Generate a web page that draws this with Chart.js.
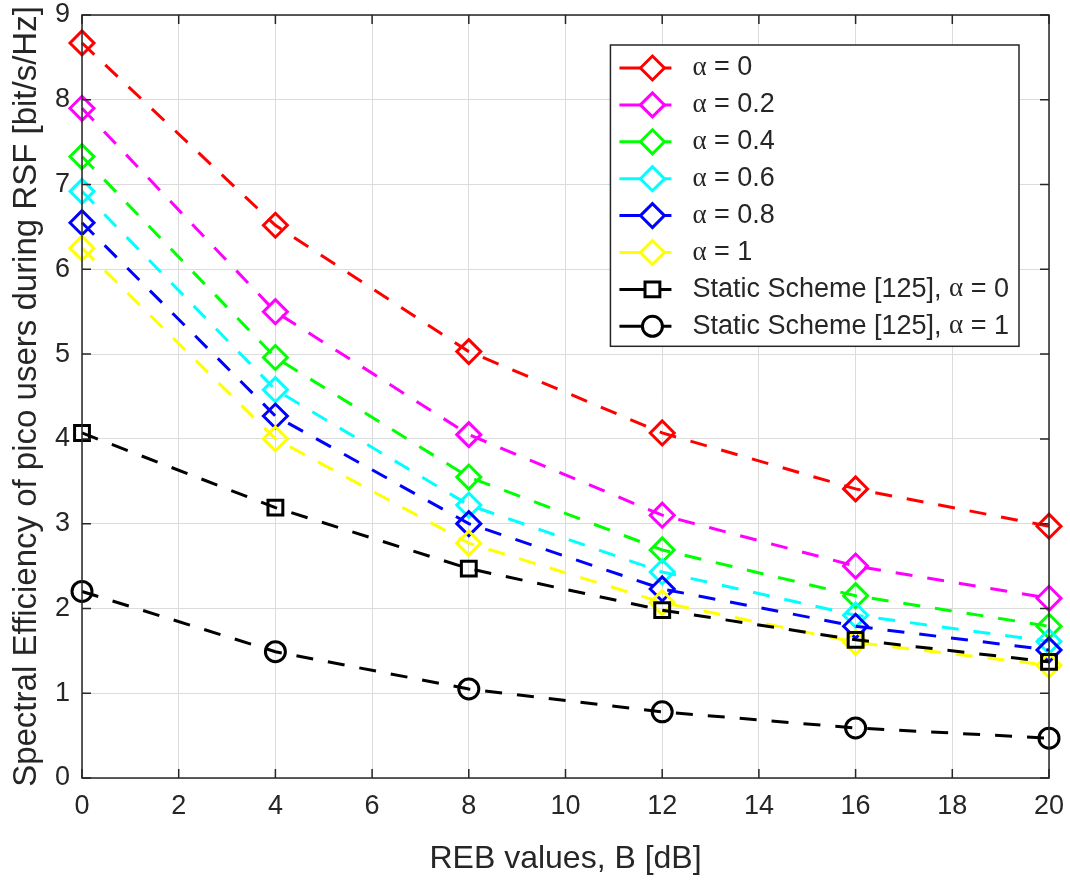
<!DOCTYPE html>
<html>
<head>
<meta charset="utf-8">
<script src="https://cdn.jsdelivr.net/npm/chart.js@4.4.1/dist/chart.umd.min.js"></script>
<style>
  body { margin: 0; background: #fff; }
  #wrap { width: 1070px; height: 882px; position: relative; }
</style>
</head>
<body>
<div id="wrap"><canvas id="sePlot"></canvas></div>
<script>
const rebValues = [0, 4, 8, 12, 16, 20];

const alpha0   = [8.67, 6.52, 5.03, 4.07, 3.41, 2.97];
const alpha02  = [7.90, 5.50, 4.05, 3.10, 2.50, 2.12];
const alpha04  = [7.33, 4.96, 3.55, 2.69, 2.15, 1.79];
const alpha06  = [6.92, 4.58, 3.22, 2.43, 1.92, 1.61];
const alpha08  = [6.55, 4.27, 3.00, 2.23, 1.79, 1.51];
const alpha1   = [6.25, 4.00, 2.77, 2.07, 1.60, 1.33];
const staticA0 = [4.07, 3.19, 2.47, 1.98, 1.63, 1.37];
const staticA1 = [2.20, 1.49, 1.05, 0.78, 0.59, 0.47];

const seriesNames = ['α = 0', 'α = 0.2', 'α = 0.4', 'α = 0.6', 'α = 0.8', 'α = 1',
    'Static Scheme [125], α = 0', 'Static Scheme [125], α = 1'];
const seriesValues = [alpha0, alpha02, alpha04, alpha06, alpha08, alpha1, staticA0, staticA1];
const seriesColors = ['#ff0000', '#ff00ff', '#00ff00', '#00ffff', '#0000ff', '#ffff00', '#000000', '#000000'];
const seriesMarkers = ['rectRot', 'rectRot', 'rectRot', 'rectRot', 'rectRot', 'rectRot', 'rect', 'circle'];

const xTicks = [0, 2, 4, 6, 8, 10, 12, 14, 16, 18, 20];
const yTicks = [0, 1, 2, 3, 4, 5, 6, 7, 8, 9];

const axisColor = '#262626';
const textFont = "'Liberation Sans', Arial, sans-serif";

function markerRadius(style) {
    if (style === 'rect') return 10.5;
    if (style === 'circle') return 10;
    return 12;
}

const datasets = seriesNames.map((name, i) => ({
    label: name,
    data: rebValues.map((x, j) => ({ x: x, y: seriesValues[i][j] })),
    borderColor: seriesColors[i],
    backgroundColor: 'rgba(0,0,0,0)',
    borderWidth: 3,
    borderDash: [17, 15],
    pointStyle: seriesMarkers[i],
    pointRadius: markerRadius(seriesMarkers[i]),
    pointBorderWidth: 3,
    pointBorderColor: seriesColors[i],
    pointBackgroundColor: 'rgba(0,0,0,0)',
    tension: 0,
    clip: false,
    order: seriesNames.length - i
}));

// box around the axes, with inward ticks on all four sides
const axesBox = {
    id: 'axesBox',
    afterDatasetsDraw(chart) {
        const { ctx, chartArea: a, scales } = chart;
        ctx.save();
        ctx.strokeStyle = axisColor;
        ctx.lineWidth = 1.5;
        ctx.setLineDash([]);
        ctx.strokeRect(a.left, a.top, a.right - a.left, a.bottom - a.top);
        const len = 9;
        ctx.beginPath();
        xTicks.forEach(v => {
            const px = scales.x.getPixelForValue(v);
            ctx.moveTo(px, a.bottom); ctx.lineTo(px, a.bottom - len);
            ctx.moveTo(px, a.top); ctx.lineTo(px, a.top + len);
        });
        yTicks.forEach(v => {
            const py = scales.y.getPixelForValue(v);
            ctx.moveTo(a.left, py); ctx.lineTo(a.left + len, py);
            ctx.moveTo(a.right, py); ctx.lineTo(a.right - len, py);
        });
        ctx.stroke();
        ctx.restore();
    }
};

// legend box inside the upper right corner of the axes
const boxLegend = {
    id: 'boxLegend',
    afterDraw(chart) {
        const { ctx, chartArea: a } = chart;
        const fontSize = 27;
        const rowH = 36.9;
        ctx.save();
        let maxW = 0;
        seriesNames.forEach(n => {
            const parts = n.split('α');
            ctx.font = fontSize + 'px ' + textFont;
            let w = ctx.measureText(parts[0]).width + ctx.measureText(parts[1]).width;
            ctx.font = fontSize + 'px "Liberation Serif", serif';
            w += ctx.measureText('α').width;
            maxW = Math.max(maxW, w);
        });
        const right = a.right - 30;
        const top = a.top + 30;
        const width = maxW + 82 + 10;
        const left = right - width;
        const height = 23 + rowH * (seriesNames.length - 1) + 20;
        ctx.fillStyle = '#fff';
        ctx.fillRect(left, top, width, height);
        ctx.strokeStyle = axisColor;
        ctx.lineWidth = 1.5;
        ctx.strokeRect(left, top, width, height);

        chart.data.datasets.forEach((ds, i) => {
            const cy = top + 23 + i * rowH;
            ctx.setLineDash([]);
            ctx.strokeStyle = ds.borderColor;
            ctx.lineWidth = 3;
            ctx.beginPath();
            ctx.moveTo(left + 9, cy);
            ctx.lineTo(left + 61, cy);
            ctx.stroke();
            ctx.fillStyle = '#fff';
            Chart.helpers.drawPoint(ctx, {
                pointStyle: ds.pointStyle,
                radius: ds.pointRadius,
                rotation: 0,
                borderWidth: 3
            }, left + 42, cy);

            const parts = ds.label.split('α');
            let tx = left + 82;
            ctx.fillStyle = axisColor;
            ctx.textBaseline = 'middle';
            ctx.textAlign = 'left';
            ctx.font = fontSize + 'px ' + textFont;
            ctx.fillText(parts[0], tx, cy);
            tx += ctx.measureText(parts[0]).width;
            ctx.font = fontSize + 'px "Liberation Serif", serif';
            ctx.fillText('α', tx, cy);
            tx += ctx.measureText('α').width;
            ctx.font = fontSize + 'px ' + textFont;
            ctx.fillText(parts[1], tx, cy);
        });
        ctx.restore();
    }
};

new Chart(document.getElementById('sePlot'), {
    type: 'line',
    data: { datasets: datasets },
    options: {
        responsive: true,
        maintainAspectRatio: false,
        animation: false,
        layout: { padding: { left: 0, right: 21, top: 15, bottom: 0 } },
        plugins: {
            legend: { display: false },
            tooltip: { enabled: false }
        },
        scales: {
            x: {
                type: 'linear',
                min: 0,
                max: 20,
                afterBuildTicks: s => { s.ticks = xTicks.map(v => ({ value: v })); },
                afterFit: s => { s.height = 104; s.paddingLeft = 0; s.paddingRight = 0; },
                grid: { color: '#dcdcdc', lineWidth: 1, drawTicks: false },
                border: { display: false },
                ticks: { color: axisColor, font: { family: textFont, size: 27 }, padding: 12, maxRotation: 0 },
                title: {
                    display: true,
                    text: 'REB values, B [dB]',
                    color: axisColor,
                    font: { family: textFont, size: 32 },
                    padding: { top: 0, bottom: 4 }
                }
            },
            y: {
                type: 'linear',
                min: 0,
                max: 9,
                afterBuildTicks: s => { s.ticks = yTicks.map(v => ({ value: v })); },
                afterFit: s => { s.width = 82; s.paddingTop = 0; s.paddingBottom = 0; },
                grid: { color: '#dcdcdc', lineWidth: 1, drawTicks: false },
                border: { display: false },
                ticks: { color: axisColor, font: { family: textFont, size: 27 }, padding: 12 },
                title: {
                    display: true,
                    text: 'Spectral Efficiency of pico users during RSF [bit/s/Hz]',
                    color: axisColor,
                    font: { family: textFont, size: 33 },
                    padding: { top: 7, bottom: 0 }
                }
            }
        }
    },
    plugins: [axesBox, boxLegend]
});
</script>
</body>
</html>
